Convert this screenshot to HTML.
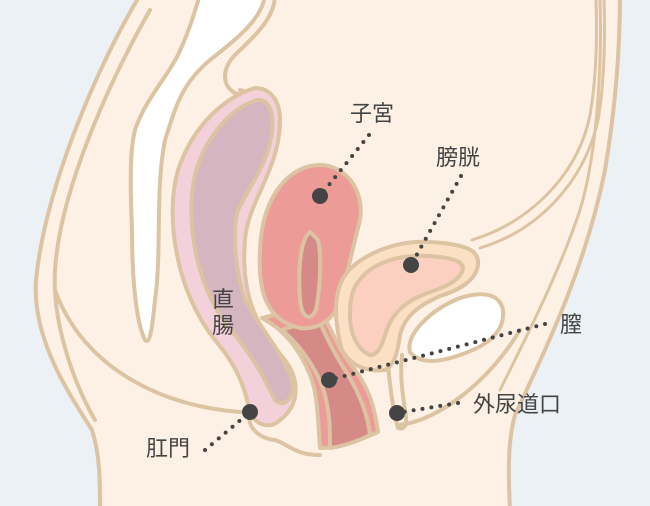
<!DOCTYPE html>
<html><head><meta charset="utf-8"><style>
html,body{margin:0;padding:0;background:#ecf1f5;}
svg{display:block}
text{font-family:"Liberation Sans","Noto Sans CJK JP",sans-serif;fill:#444;font-size:22px;}
</style></head><body>
<svg width="650" height="506" viewBox="0 0 650 506" xmlns="http://www.w3.org/2000/svg">
<rect width="650" height="506" fill="#ecf1f5"/>
<g stroke="#dcc3a2" stroke-width="4" stroke-linejoin="round" stroke-linecap="round">
<path d="M140,-5 C95,70 45,190 36,280 C32,340 70,395 92,430 C100,455 100,480 100,510 L510,510 C508,470 508,440 515,415 C545,350 585,270 605,170 C615,110 620,50 620,-5 Z" fill="#fdf1e5"/>
<path d="M150,10 C110,80 60,190 55,270 C52,320 72,380 95,420" fill="none"/>
<path d="M600,0 C602,60 598,150 580,210 C560,270 530,330 500,390" fill="none" stroke-width="3"/>
<path d="M200,-5 L265,-5 C262,20 235,40 210,60 C180,85 175,110 165,140 C155,190 162,250 155,300 C152,330 150,345 145,340 C135,320 132,270 132,230 C130,180 130,150 135,130 C145,100 165,80 178,55 C190,30 195,10 200,-5 Z" fill="#fff"/>
<path d="M275,-5 C275,20 250,40 235,55 C220,70 222,90 240,95 C250,98 245,90 240,90" fill="none"/>
<path d="M480,248 C540,230 585,180 598,120 C605,80 605,30 604,0" fill="none" stroke-width="3"/>
<path d="M472,240 C530,222 578,175 590,115 C597,75 597,30 596,0" fill="none" stroke-width="3"/>
<path d="M55,290 C80,360 150,405 240,412" fill="none"/>
<path d="M400,425 C440,420 490,380 520,330" fill="none"/>
<path d="M255,88 C230,95 195,120 178,170 C165,215 175,290 215,340 C240,370 245,390 250,412 C255,425 270,430 280,420 C300,405 300,380 285,360 C260,330 240,300 245,240 C248,200 280,170 280,120 C280,100 270,88 255,88 Z" fill="#f3d0da"/>
<path d="M258,100 C235,105 205,135 195,175 C185,220 195,290 235,335 C255,360 265,380 275,400 C285,410 298,395 290,375 C280,350 262,330 245,300 C235,270 232,230 238,210 C250,185 270,160 272,130 C274,110 268,100 258,100 Z" fill="#d5b5c0"/>
<path d="M250,412 C245,430 265,440 275,440 C290,445 295,455 320,455" fill="none"/>
<path d="M262,318 C285,330 300,350 310,375 C318,395 318,420 320,448 C340,448 360,440 378,432 C375,410 370,390 355,370 C335,345 330,325 318,305 Z" fill="#ec9b97"/>
<path d="M282,330 C300,345 318,370 325,395 C330,415 330,430 330,448 C345,446 360,440 370,435 C368,415 360,395 348,375 C335,355 325,335 318,318 Z" fill="#d68a88"/>
<path d="M320,165 C290,165 262,195 260,250 C258,290 265,320 300,328 C320,330 335,318 340,300 C348,270 355,240 360,220 C365,190 345,165 320,165 Z" fill="#ec9b97"/>
<path d="M310,232 C300,240 298,270 300,300 C302,318 310,322 316,310 C320,290 322,255 318,240 Z" fill="#d68a88"/>
<path d="M345,275 C360,255 395,240 430,242 C465,244 480,250 478,265 C476,280 460,290 440,296 C420,305 405,315 400,335 C398,350 395,365 385,370 C370,372 352,368 342,350 C335,325 332,295 345,275 Z" fill="#fbe0c4"/>
<path d="M358,282 C372,262 400,254 430,256 C455,258 466,262 462,272 C455,285 440,288 420,296 C400,305 390,318 385,335 C382,345 378,355 370,355 C358,350 350,335 350,315 C350,300 352,290 358,282 Z" fill="#fcd0c0"/>
<path d="M388,365 C390,385 392,405 398,428 C405,430 408,425 405,410 C402,390 400,375 402,355" fill="none"/>
<path d="M410,352 C405,335 430,310 460,298 C485,290 500,295 503,310 C505,330 490,345 460,355 C440,362 420,365 410,352 Z" fill="#fff"/>
</g>
<g stroke="#444" stroke-width="4" stroke-linecap="round" stroke-dasharray="0 9" fill="none">
<path d="M369,135 L320,196"/>
<path d="M461,176 L411,265"/>
<path d="M545,324 L329,380"/>
<path d="M458,403 L397,413"/>
<path d="M205,450 L250,412"/>
</g>
<g fill="#444">
<circle cx="320" cy="196" r="8"/>
<circle cx="411" cy="265" r="8"/>
<circle cx="329" cy="380" r="8"/>
<circle cx="397" cy="413" r="8"/>
<circle cx="250" cy="412" r="8"/>
</g>
<text x="350" y="121">子宮</text>
<text x="436" y="165">膀胱</text>
<text x="212" y="307">直</text>
<text x="212" y="333">腸</text>
<text x="560" y="332">膣</text>
<text x="473" y="412">外尿道口</text>
<text x="146" y="456">肛門</text>
</svg>
</body></html>
